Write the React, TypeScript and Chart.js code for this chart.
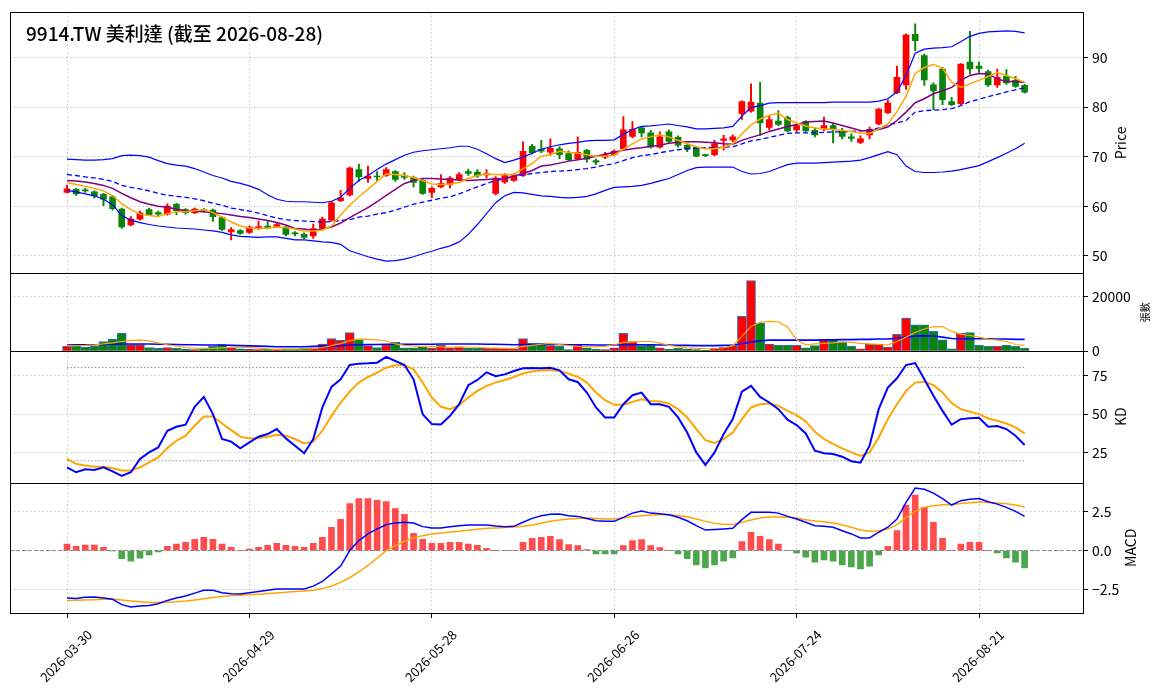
import React, { useEffect, useRef } from "react";
import { Chart, registerables } from "chart.js";

Chart.register(...registerables);

const TITLE = "9914.TW 美利達 (截至 2026-08-28)";
const YEAR = "2026";

const DATES = [
  "03-30", "03-31", "04-01", "04-02", "04-07", "04-08", "04-09", "04-10", "04-13", "04-14",
  "04-15", "04-16", "04-17", "04-20", "04-21", "04-22", "04-23", "04-24", "04-27", "04-28",
  "04-29", "04-30", "05-04", "05-05", "05-06", "05-07", "05-08", "05-11", "05-12", "05-13",
  "05-14", "05-15", "05-18", "05-19", "05-20", "05-21", "05-22", "05-25", "05-26", "05-27",
  "05-28", "05-29", "06-01", "06-02", "06-03", "06-04", "06-05", "06-08", "06-09", "06-10",
  "06-11", "06-12", "06-15", "06-16", "06-17", "06-18", "06-22", "06-23", "06-24", "06-25",
  "06-26", "06-29", "06-30", "07-01", "07-02", "07-03", "07-06", "07-07", "07-08", "07-09",
  "07-10", "07-13", "07-14", "07-15", "07-16", "07-17", "07-20", "07-21", "07-22", "07-23",
  "07-24", "07-27", "07-28", "07-29", "07-30", "07-31", "08-03", "08-04", "08-05", "08-06",
  "08-07", "08-10", "08-11", "08-12", "08-13", "08-14", "08-17", "08-18", "08-19", "08-20",
  "08-21", "08-24", "08-25", "08-26", "08-27", "08-28",
];

const OPEN = [
  62.8, 63.4, 63.3, 62.9, 62.4, 61.9, 59.4, 56.2, 57.4, 59.3,
  58.7, 58.4, 60.4, 59.3, 58.7, 59.2, 59.2, 57.7, 54.8, 55.1,
  54.7, 55.5, 56.0, 55.9, 55.8, 54.6, 54.3, 54.0, 55.5, 57.2,
  61.1, 62.3, 67.4, 65.6, 66.1, 66.2, 67.0, 66.2, 65.8, 65.2,
  62.8, 63.9, 64.4, 65.4, 67.0, 66.9, 66.3, 62.6, 64.9, 65.2,
  66.2, 72.1, 71.5, 70.9, 71.6, 70.6, 69.6, 71.3, 69.2, 69.9,
  70.4, 71.6, 74.1, 75.8, 74.8, 71.9, 75.0, 73.9, 72.3, 71.9,
  70.3, 70.4, 73.3, 73.4, 78.7, 79.2, 80.8, 75.9, 77.2, 77.9,
  75.4, 77.1, 75.3, 75.6, 76.3, 75.3, 74.0, 72.9, 74.4, 76.6,
  78.9, 82.9, 84.5, 94.7, 90.4, 84.5, 87.7, 81.1, 80.7, 89.1,
  88.3, 87.2, 84.5, 86.2, 85.4, 84.4,
];
const HIGH = [
  64.2, 63.6, 63.6, 63.1, 62.6, 62.2, 59.6, 57.9, 59.0, 59.6,
  59.0, 60.5, 60.6, 59.5, 59.6, 59.5, 59.4, 57.9, 55.7, 55.3,
  56.0, 57.0, 56.9, 56.6, 56.0, 54.9, 54.6, 56.4, 57.8, 61.0,
  63.2, 67.9, 68.5, 68.1, 67.0, 67.8, 67.2, 66.8, 66.1, 65.5,
  63.9, 66.4, 66.0, 66.8, 67.5, 67.4, 67.4, 66.0, 66.6, 66.6,
  73.0, 72.5, 73.3, 73.6, 72.0, 71.2, 74.0, 71.5, 69.5, 70.9,
  71.4, 78.1, 77.1, 76.0, 75.3, 75.0, 75.4, 74.2, 72.6, 72.1,
  70.5, 73.3, 74.3, 74.4, 81.3, 84.7, 85.0, 78.2, 79.3, 78.2,
  76.6, 77.3, 75.8, 78.0, 76.8, 75.7, 74.6, 74.2, 76.0, 79.7,
  81.5, 88.3, 94.8, 96.8, 90.7, 84.9, 88.0, 82.0, 88.8, 95.3,
  89.1, 87.5, 87.7, 87.6, 86.2, 84.6,
];
const LOW = [
  62.7, 62.2, 62.8, 61.6, 60.1, 59.2, 55.5, 56.0, 57.2, 58.1,
  58.1, 58.2, 58.3, 58.4, 58.5, 58.8, 57.0, 55.1, 53.2, 54.3,
  54.5, 55.3, 55.4, 55.7, 54.0, 54.0, 53.4, 53.5, 55.3, 57.0,
  60.9, 62.0, 65.0, 64.8, 65.0, 66.0, 65.0, 65.4, 63.9, 62.4,
  61.7, 63.7, 63.7, 65.2, 66.2, 65.8, 65.7, 62.3, 64.6, 65.0,
  66.0, 70.5, 70.8, 70.3, 69.6, 69.2, 69.4, 68.9, 68.4, 69.6,
  70.2, 71.4, 73.8, 74.0, 71.7, 71.7, 72.9, 71.9, 71.0, 70.0,
  70.0, 70.2, 71.3, 73.0, 77.5, 79.0, 74.3, 75.4, 76.2, 75.0,
  75.0, 75.0, 74.0, 75.2, 72.8, 73.6, 73.1, 72.6, 73.6, 76.4,
  78.7, 82.7, 83.6, 91.4, 84.4, 79.5, 80.5, 80.3, 80.5, 86.7,
  87.0, 84.2, 84.0, 84.6, 84.0, 82.8,
];
const CLOSE = [
  63.5, 62.5, 63.1, 62.1, 61.4, 59.5, 55.8, 57.4, 58.6, 58.3,
  58.4, 60.0, 59.1, 58.7, 59.4, 59.1, 57.9, 55.3, 55.3, 54.5,
  55.8, 55.9, 55.6, 56.3, 54.3, 54.4, 53.7, 55.5, 57.4, 60.7,
  61.7, 67.7, 65.9, 66.1, 65.9, 67.4, 65.4, 65.8, 64.8, 62.6,
  63.6, 64.6, 65.7, 66.4, 66.6, 66.1, 66.6, 65.7, 66.2, 66.2,
  71.1, 70.8, 71.1, 71.7, 70.4, 69.4, 70.9, 69.5, 68.9, 70.4,
  71.1, 75.4, 75.5, 74.8, 71.9, 74.0, 73.1, 72.3, 71.5, 70.1,
  70.2, 72.6, 73.6, 74.0, 81.1, 81.0, 76.8, 77.5, 76.5, 75.2,
  76.3, 75.2, 74.4, 76.3, 75.6, 74.1, 73.7, 73.6, 75.5, 79.6,
  80.8, 86.0, 94.6, 93.4, 85.5, 83.3, 81.5, 80.5, 88.7, 87.7,
  87.8, 84.5, 86.0, 84.9, 84.2, 83.0,
];
const VOLUME = [
  1700, 2200, 1500, 1700, 3500, 4400, 6500, 2400, 2400, 1300,
  1000, 1300, 1000, 700, 500, 600, 1700, 2400, 1200, 850,
  600, 500, 600, 500, 850, 850, 1000, 1200, 2600, 4600,
  3900, 6800, 4400, 2000, 1300, 2400, 3200, 1200, 1200, 1800,
  1000, 2200, 1200, 1500, 1000, 1000, 1000, 1000, 1000, 850,
  4600, 2800, 2800, 2000, 1700, 500, 2400, 1200, 700, 500,
  1200, 6500, 3500, 2000, 2400, 1200, 700, 1000, 700, 500,
  400, 1000, 1500, 2000, 12700, 25900, 10200, 2600, 2100, 2100,
  2100, 1200, 2000, 4100, 3900, 3400, 1700, 850, 2600, 2600,
  1500, 6100, 12100, 9600, 9600, 7200, 4100, 850, 6500, 6800,
  2100, 1700, 1700, 2100, 1700, 1000,
];
const MA5 = [
  64.8, 64.4, 64.0, 63.6, 63.1, 62.1, 60.5, 59.3, 58.4, 58.1,
  57.9, 58.5, 58.9, 58.9, 59.1, 59.3, 58.7, 57.8, 56.8, 56.0,
  55.6, 55.5, 55.6, 55.8, 55.7, 55.4, 55.0, 55.0, 55.2, 56.0,
  58.2, 60.2, 61.9, 63.4, 65.0, 66.5, 66.4, 66.2, 65.8, 65.2,
  64.5, 64.4, 64.5, 64.8, 65.6, 66.2, 66.5, 66.4, 66.4, 66.4,
  67.6, 68.6, 70.1, 70.4, 71.1, 70.9, 70.7, 70.4, 70.1, 70.1,
  70.3, 71.5, 72.6, 73.6, 74.0, 74.4, 74.0, 73.3, 72.6, 72.0,
  71.6, 71.6, 71.9, 72.6, 74.6, 76.4, 77.6, 78.3, 78.8, 77.5,
  76.8, 76.2, 75.8, 75.6, 75.5, 75.3, 75.1, 74.8, 74.7, 75.6,
  76.6, 79.1, 82.2, 86.8, 88.0, 88.6, 87.9, 85.0, 84.0, 84.7,
  85.4, 86.2, 87.0, 86.4, 85.8, 85.0,
];
const MA10 = [
  65.2, 65.1, 64.9, 64.6, 64.2, 63.6, 62.6, 61.7, 60.9, 60.4,
  60.0, 59.8, 59.4, 59.1, 59.0, 58.9, 58.7, 58.5, 58.2, 57.9,
  57.7, 57.4, 57.1, 56.7, 56.2, 55.5, 55.4, 55.1, 55.4, 55.8,
  56.6, 57.7, 58.7, 59.7, 60.9, 62.2, 63.4, 64.6, 65.2, 65.6,
  65.6, 65.5, 65.4, 65.3, 65.2, 65.3, 65.4, 65.5, 65.6, 66.1,
  66.6, 67.2, 68.1, 68.3, 68.7, 69.1, 69.4, 69.7, 70.1, 70.5,
  70.9, 71.3, 71.6, 71.8, 72.1, 72.3, 72.7, 72.9, 73.0, 73.0,
  72.9, 72.8, 72.6, 72.5, 73.3, 73.9, 74.4, 75.1, 75.6, 76.1,
  76.5, 77.0, 77.1, 77.2, 76.8, 76.3, 75.8, 75.3, 75.2, 75.5,
  76.0, 77.3, 79.0, 80.9, 81.7, 82.7, 83.3, 84.0, 85.4, 86.4,
  86.8, 86.7, 85.7, 85.2, 85.2, 85.0,
];
const MA20 = [
  66.4, 66.2, 65.9, 65.7, 65.4, 65.0, 64.2, 63.8, 63.5, 63.1,
  62.6, 62.2, 62.0, 61.8, 61.5, 61.1, 60.6, 60.2, 59.6, 59.3,
  59.0, 58.6, 58.1, 57.6, 57.3, 57.1, 57.0, 56.9, 56.8, 56.9,
  57.1, 57.3, 57.8, 58.0, 58.4, 58.7, 59.2, 59.8, 60.4, 60.8,
  61.2, 61.6, 61.9, 62.5, 63.2, 63.9, 64.6, 65.2, 65.5, 66.1,
  66.3, 66.6, 66.8, 67.0, 67.1, 67.2, 67.4, 67.6, 67.9, 68.3,
  68.6, 69.2, 69.8, 70.2, 70.4, 70.8, 71.1, 71.4, 71.6, 71.7,
  71.8, 71.8, 71.9, 72.0, 72.6, 73.2, 73.5, 73.9, 74.3, 74.7,
  74.8, 74.8, 74.8, 74.9, 75.0, 75.0, 75.1, 75.2, 75.4, 75.8,
  76.4, 76.8, 77.3, 79.0, 79.3, 79.4, 79.5, 79.7, 80.3, 81.1,
  81.6, 82.1, 82.6, 83.1, 83.5, 83.9,
];
const BB_UP = [
  69.5, 69.4, 69.3, 69.3, 69.4, 69.6, 70.2, 70.3, 70.2, 69.9,
  69.2, 68.6, 68.3, 68.1, 67.6, 66.9, 66.2, 65.7, 65.0, 64.6,
  64.1, 63.4, 62.3, 61.4, 61.0, 60.9, 60.9, 60.8, 60.7, 61.0,
  61.8, 63.6, 65.2, 66.2, 67.4, 68.5, 69.4, 70.3, 70.9, 71.2,
  71.4, 71.6, 71.8, 72.1, 72.1, 71.5, 70.6, 69.6, 68.8, 69.3,
  69.9, 70.7, 71.5, 72.0, 72.4, 72.7, 72.9, 73.2, 73.3, 73.3,
  73.4, 74.5, 75.5, 76.1, 76.2, 76.4, 76.6, 76.3, 76.0, 75.6,
  75.6, 75.7, 75.8, 76.1, 78.2, 79.9, 80.3, 80.8, 80.9, 80.9,
  80.9, 80.9, 80.9, 80.9, 81.0, 81.0, 81.0, 81.0, 81.0, 81.2,
  81.7, 83.1, 86.4, 90.9, 91.7, 91.9, 92.0, 92.2, 93.2, 94.3,
  94.9, 95.2, 95.3, 95.4, 95.3, 95.0,
];
const BB_LOW = [
  63.2, 62.9, 62.5, 62.1, 61.4, 60.3, 58.1, 57.2, 56.7, 56.3,
  56.0, 55.8, 55.6, 55.5, 55.4, 55.2, 55.0, 54.7, 54.2, 53.9,
  53.8, 53.7, 53.8, 53.8, 53.5, 53.2, 53.2, 53.0, 52.8, 52.7,
  52.3, 51.0, 50.4, 49.8, 49.3, 48.9, 49.0, 49.3, 49.8, 50.4,
  50.9, 51.5, 52.0, 52.8, 54.3, 56.3, 58.5, 60.7, 62.1, 62.8,
  62.7, 62.4, 62.1, 62.0, 61.8, 61.7, 61.8, 62.0, 62.5, 63.2,
  63.8, 63.9, 64.0, 64.2, 64.6, 65.1, 65.6, 66.4, 67.2, 67.8,
  67.9, 67.9, 67.9, 67.9, 67.0, 66.5, 66.6, 67.0, 67.7, 68.4,
  68.7, 68.7, 68.7, 68.8, 68.9, 69.0, 69.1, 69.3, 69.8, 70.4,
  71.0, 70.4, 68.1, 67.0, 66.8, 66.8, 66.9, 67.1, 67.4, 67.8,
  68.2, 69.0, 69.8, 70.7, 71.6, 72.7,
];
const VOL_MA5 = [
  1900, 2000, 2100, 2300, 2600, 3000, 3500, 3900, 4000, 3700,
  3000, 2300, 1800, 1300, 1100, 1000, 1000, 1200, 1300, 1300,
  1300, 1100, 800, 700, 700, 700, 800, 900, 1300, 2000,
  2700, 3800, 4400, 4300, 4100, 3700, 2600, 2100, 1900, 1600,
  1700, 1500, 1400, 1500, 1400, 1400, 1200, 1100, 1000, 1000,
  1700, 2100, 2500, 2800, 2400, 2000, 1700, 1600, 1500, 1700,
  2300, 3200, 3400, 3500, 3500, 2900, 2100, 1600, 1200, 1000,
  850, 850, 1200, 2000, 5400, 9000, 10500, 10900, 10700, 8800,
  4100, 2300, 2600, 2800, 3000, 3400, 3200, 2800, 2600, 2400,
  2300, 3500, 5100, 6800, 8100, 9000, 9000, 7200, 6200, 5700,
  5100, 4400, 4000, 3500, 2400, 2100,
];
const VOL_MA20 = [
  2200, 2300, 2300, 2300, 2400, 2500, 2600, 2600, 2600, 2600,
  2500, 2500, 2400, 2300, 2300, 2200, 2200, 2200, 2100, 2000,
  1900, 1800, 1700, 1600, 1600, 1600, 1600, 1700, 1800, 1900,
  2000, 2200, 2300, 2400, 2400, 2500, 2500, 2500, 2500, 2500,
  2500, 2600, 2600, 2600, 2600, 2600, 2500, 2500, 2400, 2300,
  2400, 2400, 2400, 2400, 2400, 2300, 2300, 2300, 2200, 2200,
  2200, 2300, 2300, 2300, 2300, 2200, 2200, 2100, 2100, 2000,
  2000, 2000, 2100, 2200, 2700, 3300, 3800, 4000, 4000, 4000,
  4000, 4000, 4000, 4100, 4100, 4200, 4200, 4300, 4300, 4400,
  4400, 4700, 5100, 5500, 5600, 5500, 5100, 4600, 4500, 4500,
  4500, 4500, 4400, 4400, 4300, 4300,
];
const K_LINE = [
  15.8, 12.6, 14.5, 14.1, 15.8, 13.2, 10.3, 12.6, 21.2, 25.4,
  28.6, 39.3, 41.9, 43.2, 54.7, 61.1, 50.0, 34.0, 32.3, 28.0,
  31.8, 35.5, 37.2, 40.4, 34.4, 29.7, 24.8, 34.0, 54.3, 67.5,
  72.4, 81.6, 82.5, 82.7, 83.1, 86.8, 84.2, 81.6, 72.4, 50.0,
  43.6, 43.4, 48.9, 56.4, 68.6, 72.0, 76.9, 74.4, 75.6, 77.8,
  79.5, 79.7, 79.5, 79.9, 78.2, 72.4, 70.7, 63.9, 54.3, 47.9,
  47.9, 56.4, 62.2, 63.9, 56.4, 56.4, 54.7, 47.9, 38.2, 25.4,
  17.3, 25.4, 37.2, 46.8, 64.5, 68.2, 61.1, 57.5, 53.2, 46.4,
  43.0, 37.6, 26.5, 24.8, 24.4, 22.6, 19.7, 18.8, 29.7, 53.2,
  67.1, 73.1, 81.6, 82.9, 72.4, 61.8, 52.1, 43.2, 46.8, 47.4,
  47.6, 41.9, 42.3, 40.4, 36.1, 30.1,
];
const D_LINE = [
  21.2, 18.0, 16.9, 16.2, 16.2, 15.2, 13.7, 13.7, 15.8, 19.0,
  22.2, 28.2, 32.9, 36.1, 42.5, 48.5, 48.5, 44.0, 39.7, 35.5,
  34.4, 34.6, 35.5, 36.8, 36.1, 34.0, 31.2, 32.3, 39.3, 48.9,
  57.5, 64.5, 70.3, 73.9, 76.7, 79.9, 81.4, 81.4, 78.8, 70.3,
  60.7, 54.7, 53.2, 55.8, 60.7, 65.0, 68.2, 70.3, 72.0, 73.9,
  76.1, 77.4, 78.2, 78.4, 77.8, 76.1, 74.1, 70.3, 63.9, 59.0,
  56.0, 56.0, 57.9, 59.6, 58.5, 58.1, 56.8, 53.2, 47.9, 40.4,
  33.3, 31.4, 34.0, 38.2, 46.8, 54.3, 56.4, 56.8, 55.3, 52.1,
  49.4, 45.3, 38.7, 34.0, 30.8, 28.0, 25.4, 23.1, 25.4, 35.0,
  46.8, 56.4, 65.0, 70.3, 70.9, 68.6, 63.9, 57.1, 53.2, 51.5,
  50.0, 47.2, 45.7, 44.0, 41.5, 37.6,
];
const DIF = [
  -3.06, -3.08, -3.01, -2.99, -3.06, -3.14, -3.48, -3.63, -3.57, -3.53,
  -3.42, -3.21, -3.06, -2.93, -2.74, -2.56, -2.56, -2.71, -2.78, -2.80,
  -2.71, -2.63, -2.56, -2.48, -2.48, -2.48, -2.48, -2.29, -1.99, -1.50,
  -1.00, 0.0, 0.64, 1.07, 1.39, 1.67, 1.77, 1.82, 1.77, 1.54,
  1.45, 1.45, 1.54, 1.60, 1.65, 1.65, 1.65, 1.58, 1.54, 1.56,
  1.82, 2.07, 2.24, 2.33, 2.35, 2.24, 2.20, 2.07, 1.92, 1.88,
  1.88, 2.14, 2.41, 2.54, 2.41, 2.37, 2.31, 2.14, 1.92, 1.60,
  1.32, 1.35, 1.39, 1.43, 1.99, 2.46, 2.46, 2.46, 2.41, 2.20,
  2.03, 1.82, 1.60, 1.56, 1.50, 1.28, 1.07, 0.81, 0.81, 1.18,
  1.50, 2.03, 3.10, 4.02, 3.95, 3.70, 3.35, 2.93, 3.21, 3.31,
  3.35, 3.14, 2.99, 2.78, 2.52, 2.20,
];
const DEA = [
  -3.21, -3.20, -3.18, -3.16, -3.14, -3.12, -3.18, -3.25, -3.30, -3.34,
  -3.35, -3.33, -3.30, -3.25, -3.18, -3.10, -3.02, -2.95, -2.90, -2.87,
  -2.85, -2.81, -2.77, -2.73, -2.68, -2.64, -2.60, -2.55, -2.45, -2.28,
  -2.05, -1.75, -1.38, -0.96, -0.49, 0.0, 0.32, 0.60, 0.81, 0.96,
  1.07, 1.13, 1.20, 1.24, 1.30, 1.37, 1.43, 1.46, 1.49, 1.52,
  1.56, 1.65, 1.76, 1.88, 1.97, 2.03, 2.07, 2.09, 2.07, 2.03,
  2.03, 2.09, 2.20, 2.24, 2.29, 2.31, 2.31, 2.24, 2.18, 2.03,
  1.88, 1.75, 1.69, 1.67, 1.82, 1.97, 2.09, 2.16, 2.16, 2.14,
  2.09, 1.99, 1.90, 1.86, 1.77, 1.65, 1.50, 1.32, 1.24, 1.28,
  1.39, 1.65, 2.14, 2.52, 2.78, 2.88, 2.95, 2.95, 3.03, 3.08,
  3.12, 3.10, 3.06, 3.01, 2.93, 2.80,
];
const HIST = [
  0.41, 0.28, 0.36, 0.36, 0.21, -0.02, -0.53, -0.68, -0.49, -0.28,
  -0.09, 0.28, 0.41, 0.53, 0.73, 0.85, 0.73, 0.41, 0.21, 0.0,
  0.09, 0.21, 0.34, 0.47, 0.34, 0.28, 0.21, 0.47, 0.85, 1.50,
  2.01, 3.03, 3.35, 3.35, 3.23, 3.16, 2.71, 2.33, 1.11, 0.73,
  0.47, 0.47, 0.53, 0.53, 0.41, 0.34, 0.15, 0.0, 0.0, 0.0,
  0.53, 0.79, 0.85, 0.92, 0.71, 0.38, 0.32, 0.06, -0.21, -0.21,
  -0.21, 0.32, 0.64, 0.71, 0.32, 0.19, 0.0, -0.21, -0.53, -0.92,
  -1.11, -0.92, -0.68, -0.47, 0.58, 1.18, 0.92, 0.71, 0.41, 0.0,
  -0.15, -0.43, -0.75, -0.60, -0.68, -0.92, -1.05, -1.18, -1.00, -0.28,
  0.28, 1.28, 2.93, 3.57, 2.78, 1.82, 0.79, 0.0, 0.41, 0.53,
  0.53, 0.0, -0.15, -0.47, -0.75, -1.11,
];

const X_TICKS = [0, 20, 40, 60, 80, 100];
const PRICE_TICKS = [50, 60, 70, 80, 90];
const VOL_TICKS = [0, 20000];
const KD_TICKS = [25, 50, 75];
const MACD_TICKS = [-2.5, 0, 2.5];
const KD_BANDS = [80, 20];

const FONT = "'Noto Sans CJK TC', 'Noto Sans', sans-serif";
const UP = "#ff0000";
const DOWN = "#0a850a";
const X_MIN = -6.25;
const X_MAX = 111.4;
const AXIS_W = 81;

const pts = (arr: number[]) => arr.map((y, x) => ({ x, y }));
const isUp = (i: number) => CLOSE[i] >= OPEN[i];

const line = (data: any[], yAxisID: string, color: string, width: number, dash: number[] = []) => ({
  type: "line" as const,
  data,
  yAxisID,
  borderColor: color,
  borderWidth: width,
  borderDash: dash,
  pointRadius: 0,
  tension: 0,
  fill: false,
});

function yAxis(weight: number, min: number, max: number, ticks: number[], fmt: (v: number) => string) {
  return {
    type: "linear",
    position: "right",
    stack: "panels",
    stackWeight: weight,
    min,
    max,
    afterBuildTicks: (s: any) => {
      s.ticks = ticks.map((value) => ({ value }));
    },
    afterFit: (s: any) => {
      s.width = AXIS_W;
    },
    ticks: { color: "#000", font: { family: FONT, size: 14 }, padding: 4, callback: (v: any) => fmt(Number(v)) },
    grid: { color: "#b4b4b4", lineWidth: 0.8, tickLength: 5, tickColor: "#000", tickWidth: 1, tickBorderDash: [] },
    border: { display: false, dash: [1.5, 2.5] },
  };
}

const framePlugin = {
  id: "panelFrame",
  afterDraw(chart: any) {
    const { ctx, chartArea } = chart;
    ctx.save();
    ctx.strokeStyle = "#000";
    ctx.lineWidth = 1;
    const left = Math.round(chartArea.left) + 0.5;
    const right = Math.round(chartArea.right) + 0.5;
    ["yP", "yV", "yK", "yM"].forEach((id) => {
      const s = chart.scales[id];
      const top = Math.round(s.top) + 0.5;
      const bottom = Math.round(s.bottom) + 0.5;
      ctx.strokeRect(left, top, right - left, bottom - top);
    });
    ctx.fillStyle = "#000";

    // chart title, top-left inside the price panel
    ctx.font = `500 19px ${FONT}`;
    ctx.textBaseline = "middle";
    ctx.textAlign = "left";
    ctx.fillText(TITLE, chartArea.left + 16, chartArea.top + 21);

    // x tick labels, rotated 45 degrees and centred on the tick
    const xs = chart.scales.x;
    ctx.font = `13px ${FONT}`;
    X_TICKS.forEach((v) => {
      ctx.save();
      ctx.translate(xs.getPixelForValue(v) - 1, chartArea.bottom + 43);
      ctx.rotate(-Math.PI / 4);
      ctx.textAlign = "center";
      ctx.textBaseline = "middle";
      ctx.fillText(`${YEAR}-${DATES[v]}`, 0, 0);
      ctx.restore();
    });

    // y axis titles
    const titles: [string, string, number, number][] = [
      ["yP", "Price", 14, 38],
      ["yV", "張數", 10, 62],
      ["yK", "KD", 14, 38],
      ["yM", "MACD", 14, 48],
    ];
    titles.forEach(([id, text, size, dx]) => {
      const s = chart.scales[id];
      ctx.save();
      ctx.translate(chartArea.right + dx, (s.top + s.bottom) / 2);
      ctx.rotate(-Math.PI / 2);
      ctx.font = `${size}px ${FONT}`;
      ctx.textAlign = "center";
      ctx.textBaseline = "middle";
      ctx.fillText(text, 0, 0);
      ctx.restore();
    });
    ctx.restore();
  },
};

export default function App() {
  const ref = useRef<HTMLCanvasElement | null>(null);

  useEffect(() => {
    const ctx = ref.current?.getContext("2d");
    if (!ctx) return;

    const candleColors = OPEN.map((_, i) => (isUp(i) ? UP : DOWN));

    const chart = new Chart(ctx, {
      type: "line",
      data: {
        datasets: [
          // price panel
          line(pts(MA5), "yP", "#ffa500", 1.5),
          line(pts(MA10), "yP", "#800080", 1.5),
          line(pts(BB_UP), "yP", "#0000ff", 1.2),
          line(pts(BB_LOW), "yP", "#0000ff", 1.2),
          line(pts(MA20), "yP", "#0000ff", 1.3, [5, 3]),
          {
            type: "bar",
            yAxisID: "yP",
            data: OPEN.map((o, i) => ({ x: i, y: [o, CLOSE[i]] })),
            backgroundColor: candleColors,
            borderWidth: 0,
            barThickness: 6,
            minBarLength: 1,
            grouped: false,
          },
          {
            type: "bar",
            yAxisID: "yP",
            data: LOW.map((l, i) => ({ x: i, y: [l, HIGH[i]] })),
            backgroundColor: candleColors,
            borderWidth: 0,
            barThickness: 1.3,
            grouped: false,
          },
          // volume panel
          line(pts(VOL_MA5), "yV", "#ffa500", 1.2),
          line(pts(VOL_MA20), "yV", "#0000ff", 1.6),
          {
            type: "bar",
            yAxisID: "yV",
            data: pts(VOLUME),
            backgroundColor: candleColors,
            borderColor: "#2f73b4",
            borderWidth: 1,
            barThickness: 9,
            grouped: false,
          },
          // KD panel
          line(pts(K_LINE), "yK", "#0000ff", 2),
          line(pts(D_LINE), "yK", "#ffa500", 2),
          ...KD_BANDS.map((b) => line([{ x: 0, y: b }, { x: DATES.length - 1, y: b }], "yK", "#999999", 1, [1.5, 2])),
          // MACD panel
          line(pts(DIF), "yM", "#0000ff", 1.5),
          line(pts(DEA), "yM", "#ffa500", 1.5),
          line([{ x: X_MIN, y: 0 }, { x: X_MAX, y: 0 }], "yM", "#888888", 1, [4, 2]),
          {
            type: "bar",
            yAxisID: "yM",
            data: pts(HIST),
            backgroundColor: HIST.map((v) => (v >= 0 ? "rgba(255,0,0,0.7)" : "rgba(0,128,0,0.7)")),
            borderWidth: 0,
            barThickness: 6,
            grouped: false,
          },
        ] as any,
      },
      options: {
        animation: false,
        responsive: true,
        maintainAspectRatio: false,
        events: [],
        layout: { padding: { left: 10, top: 10, right: 0, bottom: 0 } },
        plugins: { legend: { display: false }, tooltip: { enabled: false } },
        scales: {
          x: {
            type: "linear",
            min: X_MIN,
            max: X_MAX,
            offset: false,
            afterBuildTicks: (s: any) => {
              s.ticks = X_TICKS.map((value) => ({ value }));
            },
            afterFit: (s: any) => {
              s.height = 85;
            },
            ticks: { display: false, autoSkip: false },
            grid: { color: "#b4b4b4", lineWidth: 0.8, offset: false, tickLength: 5, tickColor: "#000", tickWidth: 1, tickBorderDash: [] },
            border: { display: false, dash: [1.5, 2.5] },
          },
          yP: yAxis(262, 46.44, 99.13, PRICE_TICKS, (v) => String(v)),
          yV: yAxis(78, 0, 28520, VOL_TICKS, (v) => String(v)),
          yK: yAxis(132, 6.0, 90.6, KD_TICKS, (v) => String(v)),
          yM: yAxis(131, -4.02, 4.38, MACD_TICKS, (v) => v.toFixed(1).replace("-", "\u2212")),
        } as any,
      },
      plugins: [framePlugin],
    });

    return () => chart.destroy();
  }, []);

  return (
    <div style={{ position: "fixed", left: 0, top: 0, width: 1164, height: 698, background: "#fff" }}>
      <canvas ref={ref} aria-label="9914.TW 美利達 K線圖" role="img" />
    </div>
  );
}
